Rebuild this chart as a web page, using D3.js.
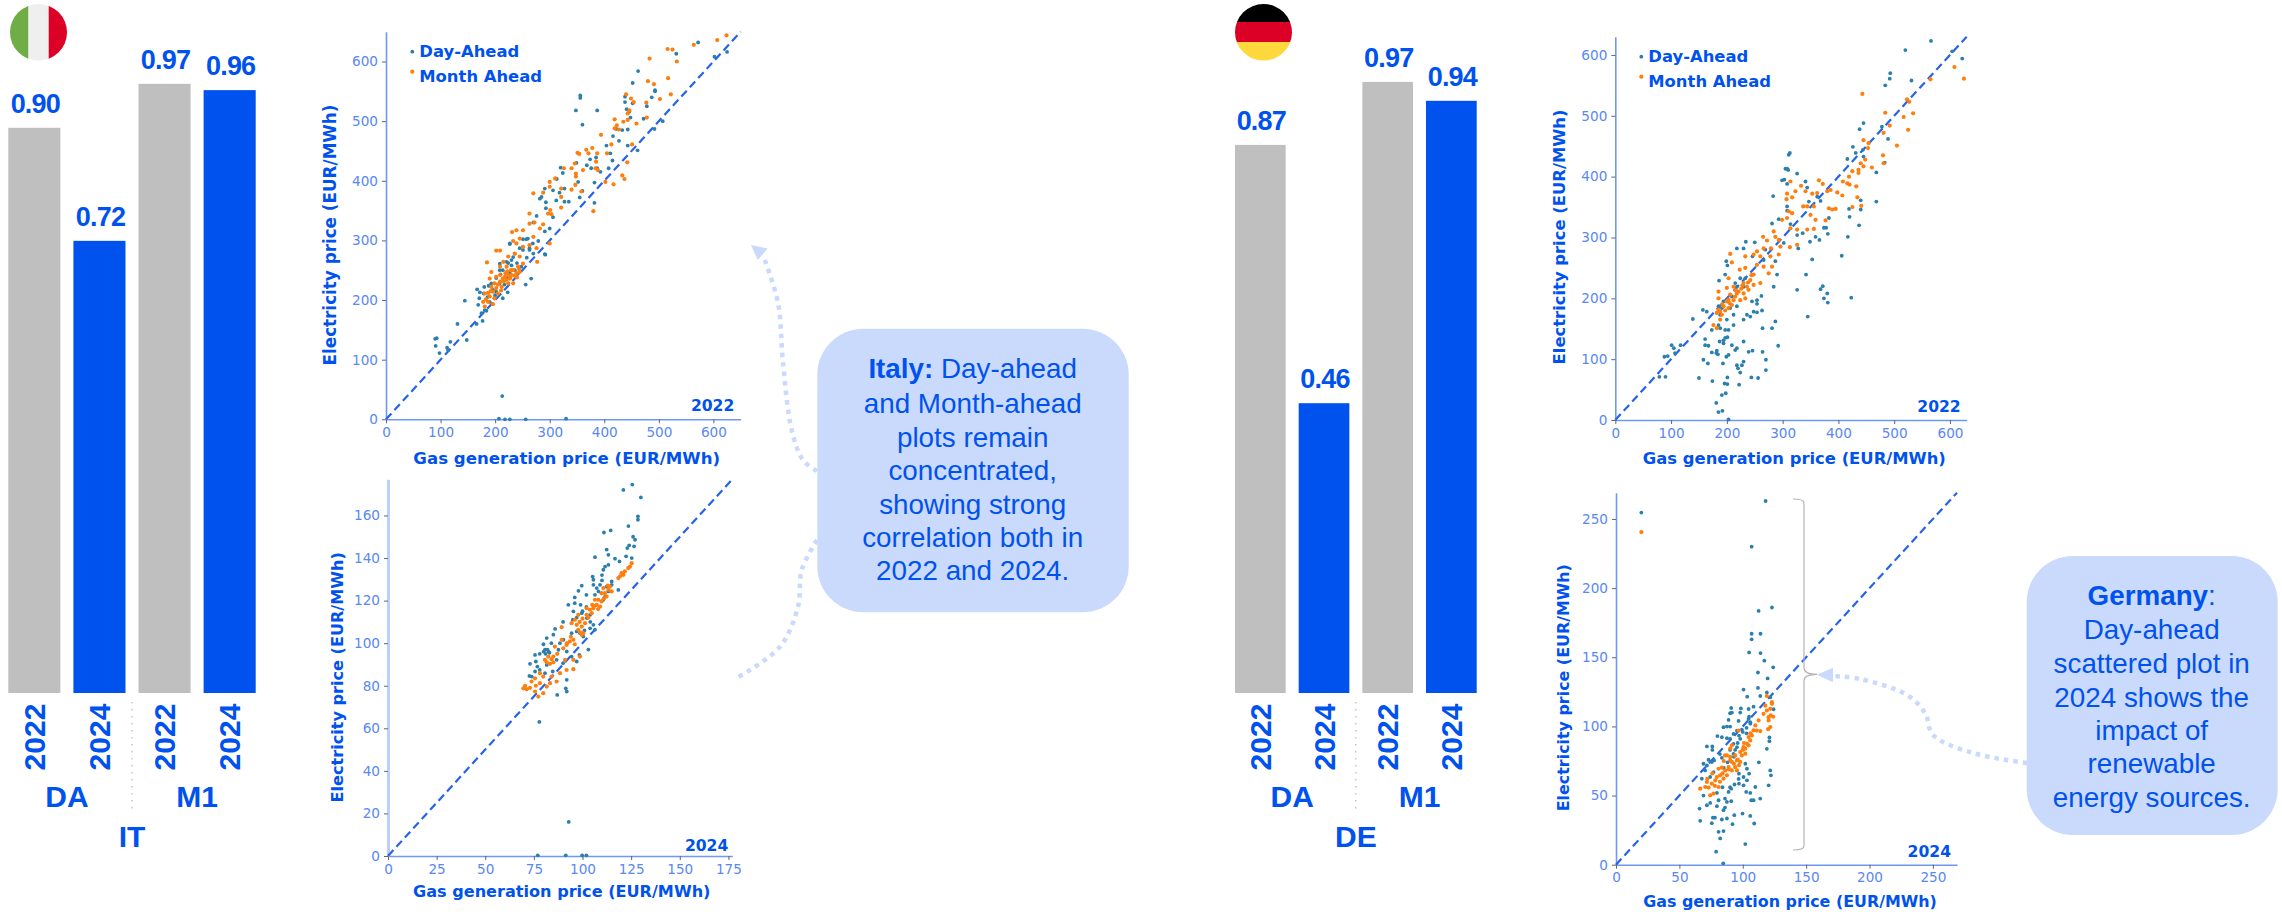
<!DOCTYPE html>
<html><head><meta charset="utf-8">
<script src="https://cdn.jsdelivr.net/npm/d3@7/dist/d3.min.js"></script>
<style>html,body{margin:0;padding:0;background:#fff}svg{display:block}</style></head>
<body><svg id="c" width="2282" height="912"></svg>
<script>
// ---------- bar data ----------
const barYears = ["2022","2024","2022","2024"];
const itCorr = [0.90,0.72,0.97,0.96];
const deCorr = [0.87,0.46,0.97,0.94];
const corrLabelsIT = ["0.90","0.72","0.97","0.96"];
const corrLabelsDE = ["0.87","0.46","0.97","0.94"];
const barGroups = ["DA","M1"];

// ---------- scatter data: [gas price, electricity price] ----------
const it22DA = [[90,135],[91,123],[93,136],[98,111],[112,120],[118,130],[114,116],[148,133],[131,160],[144.5,199],[166,160],[177,165],[167,218],[172,213],[171,203],[169,192],[180,222],[179,211],[175,178],[184,182],[213,39],[207,1],[218,0],[227,0],[256,0],[330,1],[572,632],[532,613],[602,608],[625,616],[462,584],[452,564],[356,543],[356,539],[348,518],[387,518],[360,494],[493,552],[493,550],[487,540],[478,525],[438,541],[438,532],[452,530],[441,520],[446,516],[448,506],[472,504],[507,500],[492,487],[443,486],[433,485],[422,487],[416,475],[427,467],[404,459],[411,446],[443,459],[461,451],[415,434],[408,421],[374,436],[368,426],[385,439],[387,421],[393,415],[376,421],[320,422],[324,413],[313,403],[327,387],[318,380],[306,384],[291,387],[282,370],[285,373],[293,364],[312,367],[327,365],[335,365],[352,398],[355,372],[360,383],[382,397],[382,363],[349,430],[293,354],[306,339],[276,341],[270,330],[291,315],[279,299],[300,320],[257,302],[227,295],[245,287],[263,284],[270,278],[292,276],[266,236],[256,226],[193,228],[196,217],[202,237],[208.5,261],[214,250],[224,262],[230,267],[236,278],[227,294],[251,284],[263,287],[260,303],[251,302],[269,295],[291,277],[223,213],[214,203],[199,203],[208,228],[227,245],[236,250],[248,256],[221,237],[242,245],[202,214],[190,197],[181,183],[233,272],[221,264],[208.5,250],[188,224],[200,208],[217,226],[230,258],[240,262],[258,271],[210,243],[186,205]];
const it22MA = [[624,644],[607,636],[564,628],[516,621],[525,620],[533,600],[483,605],[517,572],[480,567],[491,562],[522,545],[502,537],[440,545],[449,538],[454,532],[477,531],[446,518],[443,513],[478,506],[459,496],[419,503],[443,502],[435,499],[423,493],[419,488],[427,486],[394,477],[413,461],[451,461],[442,431],[405,446],[367,452],[378,455],[371,446],[351,447],[354,445],[387,446],[385,432],[346,429],[340,421],[326,421],[384,421],[388,418],[361,418],[348,412],[348,407],[433,409],[437,403],[417,394],[402,398],[300,398],[310,404],[300,390],[321,387],[340,385],[347,393],[358,382],[270,379],[288,380],[321,373],[321,355],[380,349],[301,351],[297,345],[303,344],[263,345],[263,328],[272,330],[288,327],[282,320],[231,314],[239,317],[251,317],[233,299],[245,303],[270,306],[300,295],[239,295],[202,283],[209,283],[185,263],[277,264],[251,289],[263,292],[276,287],[224,273],[215,264],[236,278],[245,273],[193,247],[209,256],[221,256],[233,250],[242,256],[251,261],[233,228],[202,239],[209,242],[218,239],[224,242],[230,242],[239,245],[190,236],[199,228],[209,231],[221,234],[227,236],[245,247],[193,222],[202,220],[212,222],[187,212],[196,214],[205,211],[181,211],[190,206],[199,203],[178,197],[187,197],[181,189],[196,193],[216,231],[224,228],[228,238],[236,241],[214,236],[219,245],[205,226],[211,216],[192,215],[183,201],[229,250],[240,238],[244,252],[222,248]];
const it24DA = [[125.6,174.5],[121,172],[130,168.5],[128.5,159.6],[128.5,158],[123.6,155],[114.5,153],[111,152],[126,150],[127,148.6],[126.5,145.5],[124,146],[123,144.7],[112.4,144],[113.3,141.5],[106.4,140.4],[125.3,140],[122.4,140.8],[116.7,139.7],[119,138.4],[113.3,136.8],[111.6,136],[110.7,134.5],[105.2,131.3],[105.6,129.8],[110,132],[110,129.5],[115,129],[115,127.4],[118.4,125],[99.6,127],[97.9,124.6],[102,122.7],[96,121.5],[92.7,118],[96,118.8],[95.3,114.9],[99,118],[102,117],[90,110],[85.9,106.7],[81.6,102.4],[85,104],[79.9,99.5],[84,100],[88.4,100],[80.7,96.9],[82.5,96],[78,95],[75.6,94.5],[73,90.3],[76,91.4],[76.8,89],[78,87.5],[75.6,86.7],[72.7,84.6],[73.9,84.3],[80.7,85.9],[84.7,86.7],[90,90.6],[91.9,82.8],[91.4,78.8],[91.9,77.3],[87,75.7],[77.8,63],[92.9,16],[77,0.3],[91.4,0.3],[99.8,0.3],[102,0.3],[103,97],[98.4,94.5],[97,91.4],[94.4,93.7],[103.9,107],[105.6,108.6],[106.4,106.3],[102.2,111.8],[99.6,114.1],[103.9,113.3],[107.3,125.9],[108.2,124.3],[106.4,122.7],[105.6,127.4],[109,127.4],[112.4,126.6],[110.7,120.4],[113.3,124.3],[111.6,121.9],[98.7,104.7],[100.4,103.1],[97,105.5],[94.4,104.7],[91.9,96.1],[90.2,101.6],[87.6,96.9],[86.7,92.2],[81.6,89.8],[80,96],[81,95],[82,97],[83,95.5],[104,110],[101,106],[100,115],[97,112],[95,111]];
const it24MA = [[69.6,78.8],[71.3,78.4],[70.5,80],[73.8,82],[75.6,83.5],[78.1,85.9],[79.8,84.3],[83.3,81.2],[81.6,79.6],[78.1,81.2],[75.6,77.3],[77.3,74.9],[79.8,76.5],[88.4,85.9],[86.7,82],[84.1,84.3],[91.8,87.4],[95.3,87.8],[98.7,93.7],[95.3,92.2],[91,92.2],[80.7,92.2],[82.4,93.7],[84.1,92.5],[85,93.7],[81.6,91],[83.3,90.3],[85.8,98.4],[89.3,107.5],[90.1,97.6],[91.8,99.2],[93.5,100.8],[95.3,101.6],[89.3,101.6],[99.6,103.9],[94.4,109.4],[96.1,111],[97,108.6],[97.8,106.3],[99.6,107.8],[100.4,104.7],[101.3,109.4],[97.8,113.3],[102.1,113.3],[103.8,115.7],[105.5,116.4],[104.7,114.1],[107.3,118],[108.1,120.4],[109.8,119.6],[109,117.2],[111.5,123.5],[113.3,125.1],[112.4,121.9],[114.1,126.6],[110.7,125.9],[115,124.3],[102.1,116.4],[106.4,120.4],[109.8,123.5],[119.3,131.4],[121,132.1],[121.8,133.7],[123.5,135.3],[125.3,137.6],[124.4,136],[120.1,132.9],[118.4,130.6],[98.5,110],[100,111.5],[99,105],[103,112],[106,117.5],[108,116],[111,121],[113,127],[105,118],[87,95],[85,91],[92,100],[96,99.5],[94,103],[73,79],[76,80]];
const de22DA = [[566,623],[520,608],[604,606],[622,594],[493,570],[492,561],[484,550],[531,558],[445,488],[438,478],[489,462],[478,482],[483,423],[426,449],[416,429],[431,439],[444,444],[445,433],[468,407],[468,359],[440,361],[440,346],[437,320],[419,347],[420,334],[417,301],[406,270],[423,201],[380,208],[381,193],[374,200],[372,220],[368,215],[345,170],[326,214],[342,239],[353,264],[313,439],[311,436],[308,413],[305,413],[310,411],[326,405],[299,394],[303,395],[308,388],[341,392],[344,382],[283,368],[308,351],[308,344],[293,330],[281,323],[314,322],[326,304],[336,307],[349,293],[359,301],[366,296],[328,282],[374,316],[378,316],[381,306],[383,332],[362,367],[368,360],[347,359],[302,291],[234,293],[250,292],[218,282],[230,282],[246,269],[199,261],[201,254],[197,239],[186,229],[290,239],[284,219],[262,204],[254,197],[254,191],[245,195],[248,178],[254,177],[263,180],[236,173],[230,165],[212,173],[287,162],[281,151],[264,151],[242,170],[157,181],[164,178],[139,166],[173,148],[101,123],[105,118],[117,123],[107,110],[88,104],[94,105],[79,71],[90,71],[161,133],[161,123],[167,122],[158,99],[166,93],[150,69],[174,64],[173,111],[181,110],[182,114],[184,108],[187,129],[194,131],[197,135],[201,136],[194,126],[215,115],[218,118],[209,123],[203,107],[199,104],[193,93],[230,129],[239,112],[246,114],[264,112],[292,122],[270,99],[270,82],[218,90],[220,85],[224,78],[227,90],[230,96],[244,70],[256,69],[201,70],[196,60],[201,59],[222,58],[191,41],[198,44],[181,28],[185,13],[192,15],[203,1],[188,151],[197,148],[203,148],[185,156],[200,165],[212,156],[188,173],[191,184],[206,184],[218,187],[185,187],[194,195],[209,203],[215,225],[224,233],[233,233],[230,219],[218,219],[266,263],[287,261],[269,280]];
const de22MA = [[608,580],[625,561],[565,560],[443,536],[523,527],[527,523],[484,505],[534,504],[517,498],[492,484],[481,472],[525,477],[505,451],[480,435],[481,422],[460,415],[445,460],[454,455],[453,447],[440,422],[448,428],[445,417],[436,411],[425,409],[419,400],[436,406],[408,392],[416,389],[420,387],[432,384],[398,374],[407,369],[434,366],[425,350],[441,352],[365,394],[372,388],[386,378],[380,376],[362,373],[353,372],[333,385],[341,376],[323,376],[314,392],[308,372],[307,363],[317,366],[337,351],[344,351],[356,351],[350,337],[359,329],[377,328],[383,348],[389,346],[395,347],[311,343],[317,340],[299,329],[308,332],[314,315],[326,313],[344,313],[356,314],[326,288],[313,284],[284,310],[265,301],[287,301],[272,295],[293,296],[296,285],[266,282],[279,282],[254,277],[206,273],[209,259],[233,269],[248,272],[260,269],[278,269],[293,272],[254,255],[266,252],[281,252],[223,247],[233,250],[248,239],[275,241],[203,233],[185,211],[200,217],[212,219],[185,200],[230,225],[242,230],[260,225],[248,222],[236,219],[221,211],[230,208],[239,214],[206,206],[215,203],[224,197],[233,200],[200,195],[209,189],[194,187],[203,184],[185,181],[191,173],[182,176],[188,165],[176,156],[182,151],[197,180],[205,192],[212,197],[218,208],[226,216],[238,226],[244,238],[192,190],[188,178],[203,198],[216,213],[228,221]];
const de24DA = [[20,254.6],[118,263],[107,230],[123,186],[112.5,183.5],[107,167],[107,163],[114,167],[105,153.5],[114,153],[117,147.5],[124,142.7],[112,139],[119.6,134.7],[100.6,126.6],[112,127.8],[103.5,121.5],[113.8,122],[119,124.6],[121.7,121],[124.3,112.4],[90.9,113.3],[91.4,110],[98.5,113],[104.6,112.6],[108.5,114.3],[90,109.5],[98,110],[88.8,104.7],[96.7,104],[104.6,105.4],[105.9,103],[84.8,99.4],[87.5,99.9],[90,99.9],[99.3,97.7],[95.4,97],[80,93],[83.5,92.2],[87.5,91.5],[90,91],[97,93.4],[98,91],[121,92],[121,89.3],[119,83.8],[71.7,85.5],[76,85.5],[76,83],[92.7,87.4],[95.4,85],[90,83],[92.7,80.2],[83.5,77.3],[73,75.9],[75.6,74.2],[77.4,75.4],[69,73],[71.7,71.8],[70.3,68.2],[67.7,62.2],[74.3,63.4],[77,67],[112.7,74],[102,73],[103.3,69.4],[105,65.8],[121.7,68.2],[122.2,64.6],[120.4,57.4],[97,65.8],[96.7,62],[100.6,63.4],[103.3,61],[93.5,58],[97,58.6],[100.6,57.4],[109.9,56.2],[90,56],[88.8,52.6],[90.9,55],[84,56],[79.6,51.9],[102.7,52.6],[105.9,51.9],[69,50],[106.7,46.6],[108.5,46.6],[113.8,47.8],[65.9,40.6],[74.3,44.7],[71.7,43],[80.9,46.6],[86,47.8],[87.5,45.4],[90.9,45.9],[79.6,42.3],[86,41.3],[84.8,39.4],[66.4,31.7],[76.4,34],[78,34],[75.6,30],[83.5,32.7],[87.5,33.4],[93.3,35.8],[99.8,37],[105.9,35.3],[91.9,29.3],[109,29.8],[80.9,23.8],[84.8,24.3],[82.2,19],[102,14.9],[79,9.4],[84.6,1],[92.7,94.6],[100,96],[103,99],[105,107],[106,102],[103,95],[93,78],[96,88],[94,83],[88,74],[82,80],[85,70]];
const de24MA = [[20,240.5],[66.4,55],[70.4,56.2],[73,55.8],[74.3,50.2],[76.9,51.4],[71.7,59.8],[75.6,58.6],[78.3,61],[80.9,56.2],[79.6,63.4],[82.2,64.6],[80.9,69.4],[83.5,70.2],[86.2,68.2],[84.8,62.2],[88.8,70.6],[91.4,74.3],[94,70.6],[95.4,75.4],[98,74.3],[91.4,68.2],[90.1,75.5],[87.5,64.6],[94,79],[99.3,79],[102,80.3],[98,81.5],[100.6,85],[103.3,87.5],[105.9,89.9],[104.6,86.3],[102,83.9],[107.2,93.5],[108.5,97.1],[104.6,92.3],[113.8,96.6],[112.5,104.3],[109.9,100.7],[111,97],[116.4,109.1],[119,111.5],[121.7,112.7],[123,116.3],[120.4,104.3],[121.7,99.5],[120.4,106.7],[117.8,115],[123,117.5],[87.5,79],[86,79],[96.7,97],[91.4,86.3],[90.1,83.9],[95.4,68.2],[82,60],[90.1,77.9],[96,76],[85,75],[97,72],[100,83],[101,88],[106,95],[93,73],[89,69],[78,57],[72,62],[76,66],[84,66],[119,122],[122,108],[124,107],[120,98]];

// ---------- tick labels ----------
const ticks2022 = [0,100,200,300,400,500,600];
const ticksIt24X = [0,25,50,75,100,125,150,175];
const ticksIt24Y = [0,20,40,60,80,100,120,140,160];
const ticksDe24 = [0,50,100,150,200,250];

const BLUE="#0052EE", GREY="#BFBFBF", TICK="#5A88F5", PALE="#C9DAFC";
const svg=d3.select("#c");
const SANS="'Liberation Sans',Arial,sans-serif", DJ="'DejaVu Sans',sans-serif";

function bars(o){
  const g=svg.append("g");
  const x=d3.scaleBand().domain(d3.range(4)).range(o.xr).paddingInner(o.pad).paddingOuter(0);
  const y=d3.scaleLinear().domain([0,1]).range([693,693-o.unit]);
  g.selectAll("rect").data(o.vals).join("rect")
    .attr("x",(d,i)=>x(i)).attr("width",x.bandwidth())
    .attr("y",d=>y(d)).attr("height",d=>693-y(d))
    .attr("fill",(d,i)=>i%2?BLUE:GREY);
  g.selectAll("text.v").data(o.labels).join("text").attr("class","v")
    .attr("x",(d,i)=>x(i)+x.bandwidth()/2+1).attr("y",(d,i)=>y(o.vals[i])-15)
    .attr("text-anchor","middle").attr("font-family",SANS).attr("font-weight",700)
    .attr("font-size",27).attr("letter-spacing",-0.8).attr("fill",BLUE).text(d=>d);
  g.selectAll("text.yr").data(barYears).join("text").attr("class","yr")
    .attr("transform",(d,i)=>`translate(${x(i)+x.bandwidth()/2+10.5},737) rotate(-90)`)
    .attr("text-anchor","middle").attr("font-family",SANS).attr("font-weight",700)
    .attr("font-size",30).attr("fill",BLUE).text(d=>d);
  const mid=i=>(x(i*2)+x(i*2+1)+x.bandwidth())/2;
  g.selectAll("text.gp").data(barGroups).join("text").attr("class","gp")
    .attr("x",(d,i)=>mid(i)).attr("y",807).attr("text-anchor","middle")
    .attr("font-family",SANS).attr("font-weight",700).attr("font-size",30).attr("fill",BLUE).text(d=>d);
  const c=(x(1)+x.bandwidth()+x(2))/2;
  g.append("line").attr("x1",c).attr("x2",c).attr("y1",702).attr("y2",811)
    .attr("stroke","#aaa").attr("stroke-width",1).attr("stroke-dasharray","1.5 5.5");
  g.append("text").attr("x",c).attr("y",846.5).attr("text-anchor","middle")
    .attr("font-family",SANS).attr("font-weight",700).attr("font-size",30).attr("fill",BLUE).text(o.name);
}
bars({xr:[8.3,255.7],pad:0.2,unit:628,vals:itCorr,labels:corrLabelsIT,name:"IT"});
bars({xr:[1235,1476.7],pad:0.204,unit:630,vals:deCorr,labels:corrLabelsDE,name:"DE"});

// flags
function flag(id,cx,bands){
  const defs=svg.append("defs");
  defs.append("clipPath").attr("id",id).append("ellipse").attr("cx",cx).attr("cy",32.3).attr("rx",28.5).attr("ry",28.3);
  svg.append("g").attr("clip-path",`url(#${id})`).selectAll("rect").data(bands).join("rect")
    .attr("x",d=>d.x).attr("y",d=>d.y).attr("width",d=>d.w).attr("height",d=>d.h).attr("fill",d=>d.c);
}
flag("fi",38.5,[{x:10,y:0,w:18.5,h:70,c:"#70AD47"},{x:28.5,y:0,w:20.2,h:70,c:"#EFEFEF"},{x:48.7,y:0,w:20,h:70,c:"#DC0027"}]);
flag("fd",1263.5,[{x:1235,y:0,w:58,h:22,c:"#000"},{x:1235,y:22,w:58,h:20,c:"#DC0027"},{x:1235,y:42,w:58,h:20,c:"#FFD83D"}]);

function scatter(o){
  const g=svg.append("g");
  const x=d3.scaleLinear().domain([0,o.maxX]).range([o.x0,o.x1]);
  const y=d3.scaleLinear().domain([0,o.maxY]).range([o.y0,o.y1]);
  const ax=g.append("g").attr("transform",`translate(0,${o.y0})`).call(d3.axisBottom(x).tickValues(o.tx).tickSize(4).tickSizeOuter(0).tickPadding(4));
  const ay=g.append("g").attr("transform",`translate(${o.x0},0)`).call(d3.axisLeft(y).tickValues(o.ty).tickSize(4).tickSizeOuter(0).tickPadding(4));
  [ax,ay].forEach(a=>{
    a.selectAll("text").attr("fill",TICK).attr("font-family",DJ).attr("font-size",13.6);
    a.selectAll(".tick line").attr("stroke","#666").attr("stroke-width",1);
  });
  ax.select(".domain").attr("stroke","#6F97F6").attr("stroke-width",o.sx||1.6);
  ay.select(".domain").attr("stroke",o.cy||"#6F97F6").attr("stroke-width",o.sy||1.6);
  g.append("line").attr("x1",x(0)).attr("y1",y(0)).attr("x2",x(Math.min(o.maxX,o.maxY))).attr("y2",y(Math.min(o.maxX,o.maxY)))
    .attr("stroke","#2563EB").attr("stroke-width",2.2).attr("stroke-dasharray","8 4.5");
  g.append("g").selectAll("circle").data(o.da).join("circle")
    .attr("cx",d=>x(d[0])).attr("cy",d=>y(d[1])).attr("r",1.9).attr("fill","#2A7FAE");
  g.append("g").selectAll("circle").data(o.ma).join("circle")
    .attr("cx",d=>x(d[0])).attr("cy",d=>y(d[1])).attr("r",2.1).attr("fill","#FF7F0E");
  const t=(a,b,s,fs,anchor,rot)=>g.append("text").attr("transform",`translate(${a},${b})`+(rot?" rotate(-90)":""))
    .attr("text-anchor",anchor).attr("font-family",DJ).attr("font-weight",700).attr("font-size",fs).attr("fill",BLUE).text(s);
  t(o.xt[0],o.xt[1],"Gas generation price (EUR/MWh)",o.xfs,"middle");
  t(o.yt[0],o.yt[1],"Electricity price (EUR/MWh)",o.yfs,"middle",true);
  t(o.tag[0],o.tag[1],o.tagText,15.6,"end");
  if(o.leg){
    const L=o.leg;
    g.append("circle").attr("cx",L[0]).attr("cy",L[1]).attr("r",1.9).attr("fill","#2A7FAE");
    g.append("circle").attr("cx",L[0]).attr("cy",L[1]+20).attr("r",2.1).attr("fill","#FF7F0E");
    t(L[0]+7,L[1]+5.6,"Day-Ahead",16.4,"start");
    t(L[0]+7,L[1]+30,"Month Ahead",16.4,"start");
  }
}
scatter({x0:386,x1:740.7,y0:419.3,y1:31.7,maxX:650,maxY:650,tx:ticks2022,ty:ticks2022,da:it22DA,ma:it22MA,
  xt:[566.7,464],yt:[336,235],xfs:16.6,yfs:16.8,tag:[734.3,411],tagText:"2022",leg:[412.3,51.7]});
scatter({x0:388,x1:732.3,y0:856,y1:479.3,maxX:177,maxY:177,tx:ticksIt24X,ty:ticksIt24Y,da:it24DA,ma:it24MA,
  xt:[561.7,896.7],yt:[342.7,677.3],xfs:16.1,yfs:16.1,tag:[728.3,850.7],tagText:"2024",cy:"#BCD0FA",sy:3});
scatter({x0:1615.3,x1:1966.7,y0:420,y1:36.7,maxX:630,maxY:630,tx:ticks2022,ty:ticks2022,da:de22DA,ma:de22MA,
  xt:[1794.3,464],yt:[1565.3,237],xfs:16.4,yfs:16.4,tag:[1960.7,411.7],tagText:"2022",leg:[1641.3,56.7]});
scatter({x0:1616,x1:1957,y0:864.7,y1:492.7,maxX:269,maxY:269,tx:ticksDe24,ty:ticksDe24,da:de24DA,ma:de24MA,
  xt:[1790,907.3],yt:[1568.7,687.7],xfs:15.9,yfs:15.9,tag:[1951,856.7],tagText:"2024"});

// annotation arrows + boxes
const curve=d3.line().curve(d3.curveCatmullRom);
function dotted(pts){svg.append("path").attr("d",curve(pts)).attr("fill","none").attr("stroke",PALE).attr("stroke-width",4.5).attr("stroke-dasharray","4.5 5");}
dotted([[817,471],[803,460],[791.7,430],[783,363],[778,303],[763,255]]);
svg.append("path").attr("d","M751,245L767.7,248.5L757.7,260Z").attr("fill",PALE);
dotted([[817,540],[801.7,570],[798,606.7],[780,646.7],[736.7,678]]);
dotted([[2027,763],[1973,753],[1933,735],[1925,713],[1907,695],[1860,679],[1833,676]]);
svg.append("path").attr("d","M1817,674.7L1833,667.7L1833,682.3Z").attr("fill",PALE);
svg.append("path").attr("d","M1793,499 Q1804,499 1804,503 L1804,668 Q1804,674.3 1817,674.3 Q1804,674.3 1804,681 L1804,846 Q1804,850 1793,850")
  .attr("fill","none").attr("stroke","#B5B5B5").attr("stroke-width",1.2);

function box(o){
  svg.append("rect").attr("x",o.x).attr("y",o.y).attr("width",o.w).attr("height",o.h).attr("rx",46).attr("fill",PALE);
  o.lines.forEach((ln,i)=>{
    const t=svg.append("text").attr("x",o.cx).attr("y",o.base[i]).attr("text-anchor","middle")
      .attr("font-family",SANS).attr("font-size",27.8).attr("fill",BLUE);
    ln.forEach(s=>t.append("tspan").attr("font-weight",s.b?700:400).text(s.t));
  });
}
box({x:817.3,y:328.7,w:311.4,h:283.6,cx:972.7,base:[378.3,412.7,446.7,480,514,546.7,580],lines:[
  [{t:"Italy:",b:1},{t:" Day-ahead"}],[{t:"and Month-ahead"}],[{t:"plots remain"}],[{t:"concentrated,"}],[{t:"showing strong"}],[{t:"correlation both in"}],[{t:"2022 and 2024."}]]});
box({x:2026.7,y:556,w:251,h:279,cx:2151.7,base:[605,639.3,672.7,706.7,740,773.3,807.3],lines:[
  [{t:"Germany",b:1},{t:":"}],[{t:"Day-ahead"}],[{t:"scattered plot in"}],[{t:"2024 shows the"}],[{t:"impact of"}],[{t:"renewable"}],[{t:"energy sources."}]]});
</script></body></html>
